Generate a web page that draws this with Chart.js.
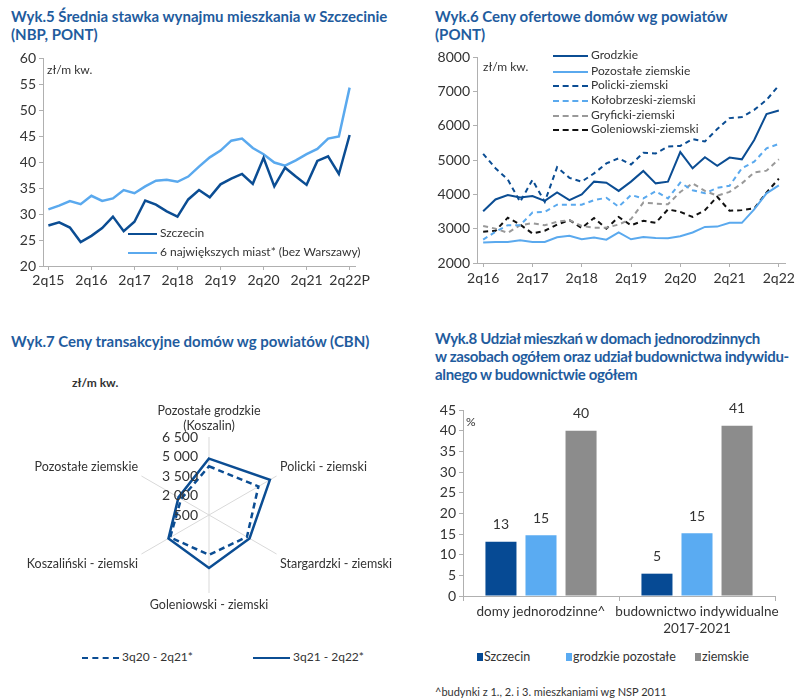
<!DOCTYPE html>
<html>
<head>
<meta charset="utf-8">
<script src="https://cdn.jsdelivr.net/npm/chart.js@4.4.1/dist/chart.umd.min.js"></script>
<style>
body { margin:0; background:#fff; width:800px; height:699px; position:relative; overflow:hidden; font-family:Lato, sans-serif; }
.t { position:absolute; color:#1f5c9e; font-weight:bold; font-size:15px; line-height:18px; white-space:nowrap; }
.u { position:absolute; color:#333; font-size:12px; white-space:nowrap; }
.lg { position:absolute; font-size:12px; color:#333; white-space:nowrap; line-height:14px; }
.ln { position:absolute; height:0; }
.bx { position:absolute; width:6px; height:8px; }
canvas { position:absolute; }
</style>
</head>
<body>
<div class="t" style="left:11px;top:7px">Wyk.5 Średnia stawka wynajmu mieszkania w Szczecinie<br>(NBP, PONT)</div>
<div class="t" style="left:435px;top:7px">Wyk.6 Ceny ofertowe domów wg powiatów<br>(PONT)</div>
<div class="t" style="left:11px;top:332px">Wyk.7 Ceny transakcyjne domów wg powiatów (CBN)</div>
<div class="t" style="left:435px;top:329px;letter-spacing:-0.35px">Wyk.8 Udział mieszkań w domach jednorodzinnych<br>w zasobach ogółem oraz udział budownictwa indywidu-<br>alnego w budownictwie ogółem</div>

<canvas id="c5" width="400" height="250" style="left:0;top:45px"></canvas>
<canvas id="c6" width="400" height="250" style="left:400px;top:45px"></canvas>
<canvas id="c7" width="420" height="224" style="left:0;top:396px"></canvas>
<canvas id="c8" width="400" height="240" style="left:400px;top:395px"></canvas>

<div class="u" style="left:47px;top:62px">zł/m kw.</div>
<div class="u" style="left:483px;top:59px">zł/m kw.</div>
<div class="u" style="left:72px;top:375px;font-weight:bold">zł/m kw.</div>
<div class="u" style="left:466px;top:414px">%</div>

<div id="lg5"></div>
<div id="lg6"></div>
<div id="lg7"></div>
<div id="lg8"></div>
<div class="u" style="left:435px;top:685px;font-size:11px">^budynki z 1., 2. i 3. mieszkaniami wg NSP 2011</div>

<script>
// Wyk.5
var q5 = ['2q15','3q15','4q15','1q16','2q16','3q16','4q16','1q17','2q17','3q17','4q17','1q18','2q18','3q18','4q18','1q19','2q19','3q19','4q19','1q20','2q20','3q20','4q20','1q21','2q21','3q21','4q21','1q22','2q22P'];
var szczecin = [27.8,28.4,27.4,24.6,25.8,27.3,29.5,26.7,28.5,32.6,31.8,30.5,29.5,32.8,34.6,33.2,35.7,36.8,37.7,35.8,40.8,35.3,38.9,37.2,35.6,40.2,41.1,37.7,45.2];
var miast6 = [30.9,31.6,32.5,31.9,33.5,32.5,33.0,34.6,34.0,35.3,36.4,36.6,36.2,37.2,39.1,40.9,42.2,44.1,44.5,42.7,41.5,39.9,39.3,40.3,41.5,42.5,44.5,44.9,54.3];

// Wyk.6
var q6 = ['2q16','3q16','4q16','1q17','2q17','3q17','4q17','1q18','2q18','3q18','4q18','1q19','2q19','3q19','4q19','1q20','2q20','3q20','4q20','1q21','2q21','3q21','4q21','1q22','2q22'];
var grodzkie = [3510,3850,3980,3910,3950,3810,4055,3830,4000,4370,4340,4100,4370,4680,4320,4370,5230,4760,5080,4830,5070,5020,5585,6340,6440];
var pozostaleZiem = [2595,2615,2615,2660,2615,2615,2750,2790,2690,2740,2680,2890,2690,2760,2730,2720,2780,2890,3050,3060,3170,3170,3560,4030,4260];
var policki = [5180,4760,4430,3780,4420,3780,4790,4480,4370,4610,4900,5050,4870,5210,5190,5390,5410,5610,5540,5900,6220,6250,6460,6750,7170];
var kolobrzeski = [2680,2910,3100,3100,3470,3490,3700,3700,3700,3830,3900,3640,3980,3880,4090,3880,4340,4120,4030,4190,4250,4760,4950,5340,5470];
var gryficki = [3080,3000,2880,3100,3160,3100,3200,3250,3080,3030,3030,3120,3280,3760,3730,3710,4070,4320,4100,3960,4070,4320,4640,4690,5020];
var goleniowski = [2910,2940,3320,3120,2860,2940,3120,3250,3020,3310,3000,3340,3100,3230,3170,3560,3490,3340,3540,3930,3520,3540,3590,4050,4460];

// Wyk.7
var powiaty = [['Pozostałe grodzkie','(Koszalin)'],'Policki - ziemski','Stargardzki - ziemski','Goleniowski - ziemski','Koszaliński - ziemski','Pozostałe ziemskie'];
var okres1 = [4250,4890,3870,3560,3950,2980];
var okres2 = [4840,5910,4100,4580,4100,3210];
var radarTicks = [500,2000,3500,5000,6500];

// Wyk.8
var kategorie8 = ['domy jednorodzinne^',['budownictwo indywidualne','2017-2021']];
var szczecin8 = [13.1,5.4];
var grodzkie8 = [14.7,15.2];
var ziemskie8 = [40.0,41.2];

var DARK = '#0b4d93', LIGHT = '#5aa9ee', GRAY = '#999999', BLACK = '#111111';
var AX = '#b0b0b0', TXT = '#333';
Chart.defaults.font.family = 'Lato, sans-serif';
Chart.defaults.color = TXT;
Chart.defaults.animation = false;

function legendLine(parent, x, y, w, color, dash, width, text) {
  var d = document.createElement('div');
  d.className = 'ln';
  d.style.cssText = 'left:' + x + 'px;top:' + (y - width / 2) + 'px;width:' + w + 'px;border-top:' + width + 'px ' + (dash ? 'dashed ' : 'solid ') + color;
  parent.appendChild(d);
  var t = document.createElement('div');
  t.className = 'lg';
  t.style.left = (x + w + 3) + 'px';
  t.style.top = (y - 8) + 'px';
  t.textContent = text;
  parent.appendChild(t);
}

function every4(v, i) { return i % 4 === 0 ? this.getLabelForValue(v) : ''; }
function plain(v) { return String(v); }

new Chart(document.getElementById('c5'), {
  type: 'line',
  data: {
    labels: q5,
    datasets: [
      { label: 'Szczecin', data: szczecin, borderColor: DARK, borderWidth: 2.5, pointRadius: 0, tension: 0 },
      { label: '6 największych miast* (bez Warszawy)', data: miast6, borderColor: LIGHT, borderWidth: 2.5, pointRadius: 0, tension: 0 }
    ]
  },
  options: {
    responsive: false,
    layout: { padding: { top: 13, right: 45, left: 0, bottom: 0 } },
    plugins: { legend: { display: false }, tooltip: { enabled: false } },
    scales: {
      x: { offset: true, grid: { drawOnChartArea: false, tickLength: 4, color: function (c) { return c.index % 4 === 0 ? AX : 'rgba(0,0,0,0)'; } },
           border: { color: AX }, ticks: { autoSkip: false, maxRotation: 0, callback: every4, font: { size: 14 }, padding: 2 },
           afterFit: function (s) { s.height = 29; } },
      y: { min: 20, max: 60, grid: { drawOnChartArea: false, tickLength: 4, color: AX }, border: { color: AX },
           ticks: { stepSize: 5, font: { size: 14 }, padding: 3, callback: plain }, afterFit: function (s) { s.width = 43; } }
    }
  }
});

new Chart(document.getElementById('c6'), {
  type: 'line',
  data: {
    labels: q6,
    datasets: [
      { label: 'Grodzkie', data: grodzkie, borderColor: DARK, borderWidth: 2, pointRadius: 0 },
      { label: 'Pozostałe ziemskie', data: pozostaleZiem, borderColor: LIGHT, borderWidth: 2, pointRadius: 0 },
      { label: 'Policki-ziemski', data: policki, borderColor: DARK, borderWidth: 2, borderDash: [5, 4], pointRadius: 0 },
      { label: 'Kołobrzeski-ziemski', data: kolobrzeski, borderColor: LIGHT, borderWidth: 2, borderDash: [5, 4], pointRadius: 0 },
      { label: 'Gryficki-ziemski', data: gryficki, borderColor: GRAY, borderWidth: 2, borderDash: [5, 4], pointRadius: 0 },
      { label: 'Goleniowski-ziemski', data: goleniowski, borderColor: BLACK, borderWidth: 2, borderDash: [5, 4], pointRadius: 0 }
    ]
  },
  options: {
    responsive: false,
    layout: { padding: { top: 12, right: 15, left: 0, bottom: 0 } },
    plugins: { legend: { display: false }, tooltip: { enabled: false } },
    scales: {
      x: { offset: true, grid: { drawOnChartArea: false, tickLength: 4, color: function (c) { return c.index % 4 === 0 ? AX : 'rgba(0,0,0,0)'; } },
           border: { color: AX }, ticks: { autoSkip: false, maxRotation: 0, callback: every4, font: { size: 14 }, padding: 3 },
           afterFit: function (s) { s.height = 32; } },
      y: { min: 2000, max: 8000, grid: { drawOnChartArea: false, tickLength: 4, color: AX }, border: { color: AX },
           ticks: { stepSize: 1000, font: { size: 14 }, padding: 3, callback: plain }, afterFit: function (s) { s.width = 77; } }
    }
  }
});

var radarTickPlugin = {
  id: 'radarTicks',
  afterDatasetsDraw: function (chart) {
    var r = chart.scales.r, ctx = chart.ctx;
    ctx.save();
    ctx.font = '14px Lato, sans-serif';
    ctx.fillStyle = TXT;
    ctx.textAlign = 'right';
    ctx.textBaseline = 'middle';
    radarTicks.forEach(function (v) {
      var y = r.yCenter - r.getDistanceFromCenterForValue(v);
      ctx.fillText(String(v).replace(/\B(?=(\d{3})+$)/, ' '), r.xCenter - 11, y);
    });
    ctx.restore();
  }
};

new Chart(document.getElementById('c7'), {
  type: 'radar',
  data: {
    labels: powiaty,
    datasets: [
      { label: '3q20 - 2q21*', data: okres1, borderColor: DARK, borderWidth: 2.5, borderDash: [6, 4], fill: false, pointRadius: 0, backgroundColor: 'rgba(0,0,0,0)' },
      { label: '3q21 - 2q22*', data: okres2, borderColor: DARK, borderWidth: 2.5, fill: false, pointRadius: 0, backgroundColor: 'rgba(0,0,0,0)' }
    ]
  },
  options: {
    responsive: false,
    plugins: { legend: { display: false }, tooltip: { enabled: false } },
    scales: {
      r: { min: 500, max: 6500, ticks: { display: false, stepSize: 1500 },
           grid: { display: false }, angleLines: { color: '#d9d9d9' },
           pointLabels: { font: { size: 12.5 }, color: TXT, padding: 4 } }
    }
  },
  plugins: [radarTickPlugin]
});

var barLabelPlugin = {
  id: 'barLabels',
  afterDatasetsDraw: function (chart) {
    var ctx = chart.ctx;
    ctx.save();
    ctx.font = '14px Lato, sans-serif';
    ctx.fillStyle = TXT;
    ctx.textAlign = 'center';
    ctx.textBaseline = 'bottom';
    chart.data.datasets.forEach(function (ds, di) {
      chart.getDatasetMeta(di).data.forEach(function (bar, i) {
        ctx.fillText(Math.round(ds.data[i]), bar.x, bar.y - 10);
      });
    });
    ctx.restore();
  }
};

new Chart(document.getElementById('c8'), {
  type: 'bar',
  data: {
    labels: kategorie8,
    datasets: [
      { label: 'Szczecin', data: szczecin8, backgroundColor: '#064a94' },
      { label: 'grodzkie pozostałe', data: grodzkie8, backgroundColor: '#5aabf2' },
      { label: 'ziemskie', data: ziemskie8, backgroundColor: '#8c8c8c' }
    ]
  },
  options: {
    responsive: false,
    categoryPercentage: 0.77,
    barPercentage: 0.775,
    layout: { padding: { top: 15, right: 25, left: 0, bottom: 0 } },
    plugins: { legend: { display: false }, tooltip: { enabled: false } },
    scales: {
      x: { grid: { drawOnChartArea: false, tickLength: 5, color: AX }, border: { color: AX },
           ticks: { font: { size: 13.5 }, padding: 3, autoSkip: false, maxRotation: 0, minRotation: 0 },
           afterFit: function (s) { s.height = 39; } },
      y: { min: 0, max: 45, grid: { drawOnChartArea: false, tickLength: 4, color: AX }, border: { color: AX },
           ticks: { stepSize: 5, font: { size: 14 }, padding: 3 }, afterFit: function (s) { s.width = 63; } }
    }
  },
  plugins: [barLabelPlugin]
});

// legends
var lg5 = document.getElementById('lg5');
legendLine(lg5, 128, 234, 29, DARK, false, 2.5, 'Szczecin');
legendLine(lg5, 128, 253, 29, LIGHT, false, 2.5, '6 największych miast* (bez Warszawy)');
var lg6 = document.getElementById('lg6');
legendLine(lg6, 553, 56, 35, DARK, false, 2, 'Grodzkie');
legendLine(lg6, 553, 72, 35, LIGHT, false, 2, 'Pozostałe ziemskie');
legendLine(lg6, 553, 86, 35, DARK, true, 2, 'Policki-ziemski');
legendLine(lg6, 553, 101, 35, LIGHT, true, 2, 'Kołobrzeski-ziemski');
legendLine(lg6, 553, 116, 35, GRAY, true, 2, 'Gryficki-ziemski');
legendLine(lg6, 553, 130, 35, BLACK, true, 2, 'Goleniowski-ziemski');
var lg7 = document.getElementById('lg7');
legendLine(lg7, 82, 658, 37, DARK, true, 2, '3q20 - 2q21*');
legendLine(lg7, 253, 658, 37, DARK, false, 2.5, '3q21 - 2q22*');
var lg8 = document.getElementById('lg8');
[['Szczecin', '#064a94', 477], ['grodzkie pozostałe', '#5aabf2', 566], ['ziemskie', '#8c8c8c', 695]].forEach(function (e) {
  var b = document.createElement('div');
  b.className = 'bx';
  b.style.cssText = 'left:' + e[2] + 'px;top:653px;background:' + e[1];
  lg8.appendChild(b);
  var t = document.createElement('div');
  t.className = 'lg';
  t.style.cssText = 'left:' + (e[2] + 7) + 'px;top:650px;font-size:12.5px';
  t.textContent = e[0];
  lg8.appendChild(t);
});
</script>
</body>
</html>
